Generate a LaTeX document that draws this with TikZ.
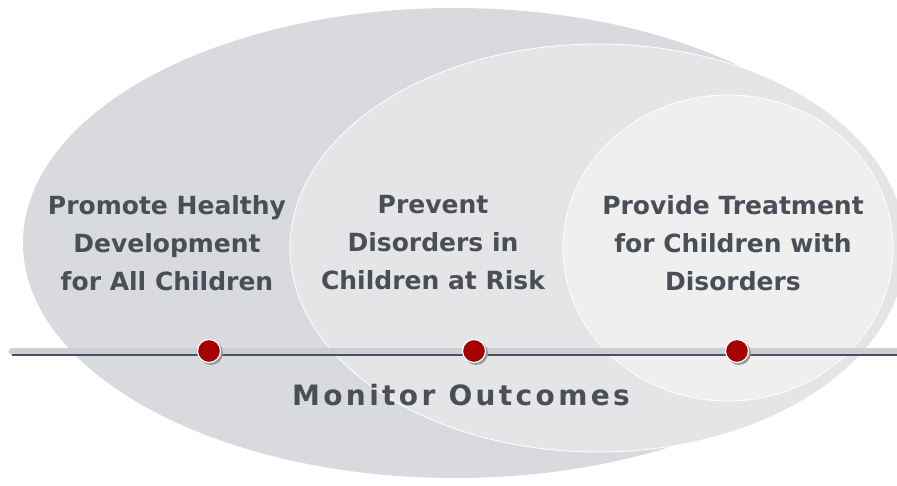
\documentclass[tikz,border=0pt]{standalone}
\usepackage{fontspec}
\setmainfont{DejaVu Sans}
\newfontfamily\monfont{DejaVu Sans}[LetterSpace=12]
\usetikzlibrary{calc}
\definecolor{outergray}{RGB}{217,218,222}
\definecolor{middlegray}{RGB}{229,229,231}
\definecolor{innergray}{RGB}{239,239,240}
\definecolor{textgray}{RGB}{74,78,87}
\definecolor{barlight}{RGB}{205,207,212}
\definecolor{bardark}{RGB}{74,82,98}
\definecolor{dotred}{RGB}{165,0,0}
\tikzset{
    area text/.style={font=\bfseries\fontsize{25}{38}\selectfont, text=textgray, align=center},
    milestone/.style={circle, fill=dotred, draw=white, line width=1.2pt, minimum size=23pt, inner sep=0pt},
}

\begin{document}
\begin{tikzpicture}[x=1pt, y=1pt]

    \useasboundingbox (0,0) rectangle (897,485);

    \def\bary{133}

    % nested areas
    \fill[outergray] (455,242) ellipse [x radius=432, y radius=235];
    \filldraw[middlegray, draw=white, line width=0.8pt] (598,237) ellipse [x radius=308, y radius=204];
    \filldraw[innergray, draw=white, line width=0.8pt] (728,237) ellipse [x radius=165, y radius=153];

    % timeline
    \coordinate (L) at (12,\bary);
    \coordinate (R) at (897,\bary);
    \draw[barlight, line width=7pt, line cap=round] (L) -- (R);
    \draw[bardark, line width=2.2pt] ($(L)+(0,-3)$) -- ($(R)+(0,-3)$);

    \foreach \name/\x in {promote/209, prevent/474, treat/737} {
        \fill[gray!80] (\x+2,\bary-1) circle [radius=12];
        \node[milestone] (\name-dot) at (\x,\bary+1) {};
    }

    \begin{scope}[area text]
        \node (promote) at (167,242) {Promote Healthy\\Development\\for All Children};
        \node (prevent) at (433,242) {Prevent\\Disorders in\\Children at Risk};
        \node (treat) at (733,242) {Provide Treatment\\for Children with\\Disorders};
    \end{scope}

    \node[font=\monfont\bfseries\fontsize{28}{32}\selectfont, text=textgray] (monitor) at (461,90) {Monitor Outcomes};

\end{tikzpicture}
\end{document}
